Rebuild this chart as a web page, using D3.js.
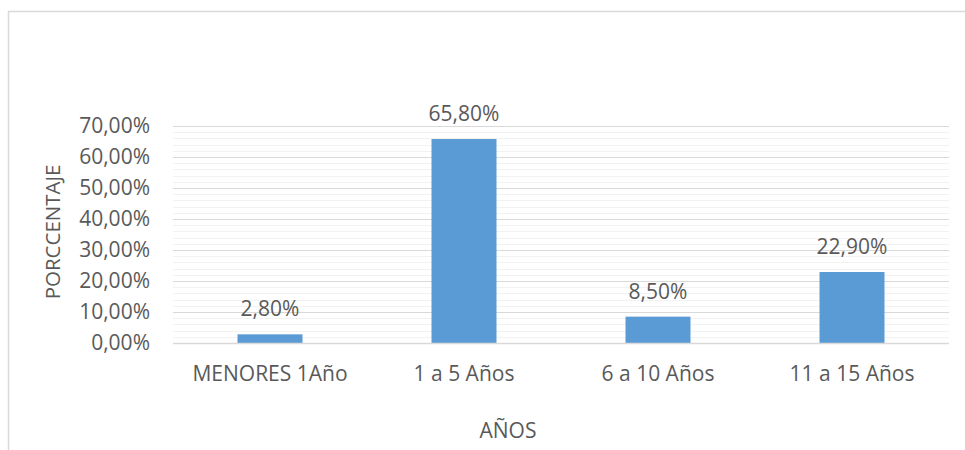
<!DOCTYPE html>
<html><head><meta charset="utf-8">
<script src="https://cdn.jsdelivr.net/npm/d3@7"></script>
<style>body{margin:0;background:#fff}svg{display:block}text{font-family:"Open Sans",sans-serif;fill:#595959}</style>
</head><body><svg id="c" width="965" height="450"></svg>
<script>
const categories = ["MENORES 1Año", "1 a 5 Años", "6 a 10 Años", "11 a 15 Años"];
const values = [0.028, 0.658, 0.085, 0.229];
const valueLabels = ["2,80%", "65,80%", "8,50%", "22,90%"];
const yTicks = [0, 0.1, 0.2, 0.3, 0.4, 0.5, 0.6, 0.7];
const yTickLabels = ["0,00%", "10,00%", "20,00%", "30,00%", "40,00%", "50,00%", "60,00%", "70,00%"];
const minorTicks = d3.range(0, 36).map(i => i * 0.02).filter(v => v <= 0.7001);
const xTitle = "AÑOS", yTitle = "PORCCENTAJE";

const svg = d3.select("#c");
svg.append("rect").attr("x", 8.5).attr("y", 11.5).attr("width", 980).attr("height", 460)
  .attr("fill", "#fff").attr("stroke", "#d9d9d9").attr("stroke-width", 1.5);

const L = 173, R = 949, T = 126, B = 343;
const x = d3.scaleBand().domain(categories).range([L, R]).paddingInner(0.665).paddingOuter(0.3325);
const y = d3.scaleLinear().domain([0, 0.7]).range([B, T]);

svg.append("g").selectAll("line").data(minorTicks).join("line")
  .attr("x1", L).attr("x2", R).attr("y1", d => Math.round(y(d)) + 0.5).attr("y2", d => Math.round(y(d)) + 0.5)
  .attr("stroke", "#f2f2f2").attr("stroke-width", 1);
svg.append("g").selectAll("line").data(yTicks).join("line")
  .attr("x1", L).attr("x2", R).attr("y1", d => Math.round(y(d)) + 0.5).attr("y2", d => Math.round(y(d)) + 0.5)
  .attr("stroke", "#d9d9d9").attr("stroke-width", 1);

svg.append("g").selectAll("rect").data(values).join("rect")
  .attr("x", (d, i) => x(categories[i])).attr("width", x.bandwidth())
  .attr("y", d => y(d)).attr("height", d => B - y(d)).attr("fill", "#5b9bd5");

svg.append("line").attr("x1", L).attr("x2", R).attr("y1", B + 0.5).attr("y2", B + 0.5)
  .attr("stroke", "#d9d9d9").attr("stroke-width", 1.5);

svg.append("g").selectAll("text").data(yTicks).join("text")
  .attr("x", 150).attr("y", d => y(d)).attr("dy", "0.35em").attr("text-anchor", "end")
  .attr("font-size", 21).text((d, i) => yTickLabels[i]);

svg.append("g").selectAll("text").data(categories).join("text")
  .attr("x", d => x(d) + x.bandwidth() / 2).attr("y", 381).attr("text-anchor", "middle")
  .attr("font-size", 21).text(d => d);

svg.append("g").selectAll("text").data(values).join("text")
  .attr("x", (d, i) => x(categories[i]) + x.bandwidth() / 2).attr("y", d => y(d) - 18)
  .attr("text-anchor", "middle").attr("font-size", 21).attr("fill", "#404040").text((d, i) => valueLabels[i]);

svg.append("text").attr("x", 508).attr("y", 438).attr("text-anchor", "middle").attr("font-size", 21).text(xTitle);
svg.append("text").attr("transform", "translate(60,232) rotate(-90)").attr("text-anchor", "middle")
  .attr("font-size", 20.5).text(yTitle);
</script></body></html>
